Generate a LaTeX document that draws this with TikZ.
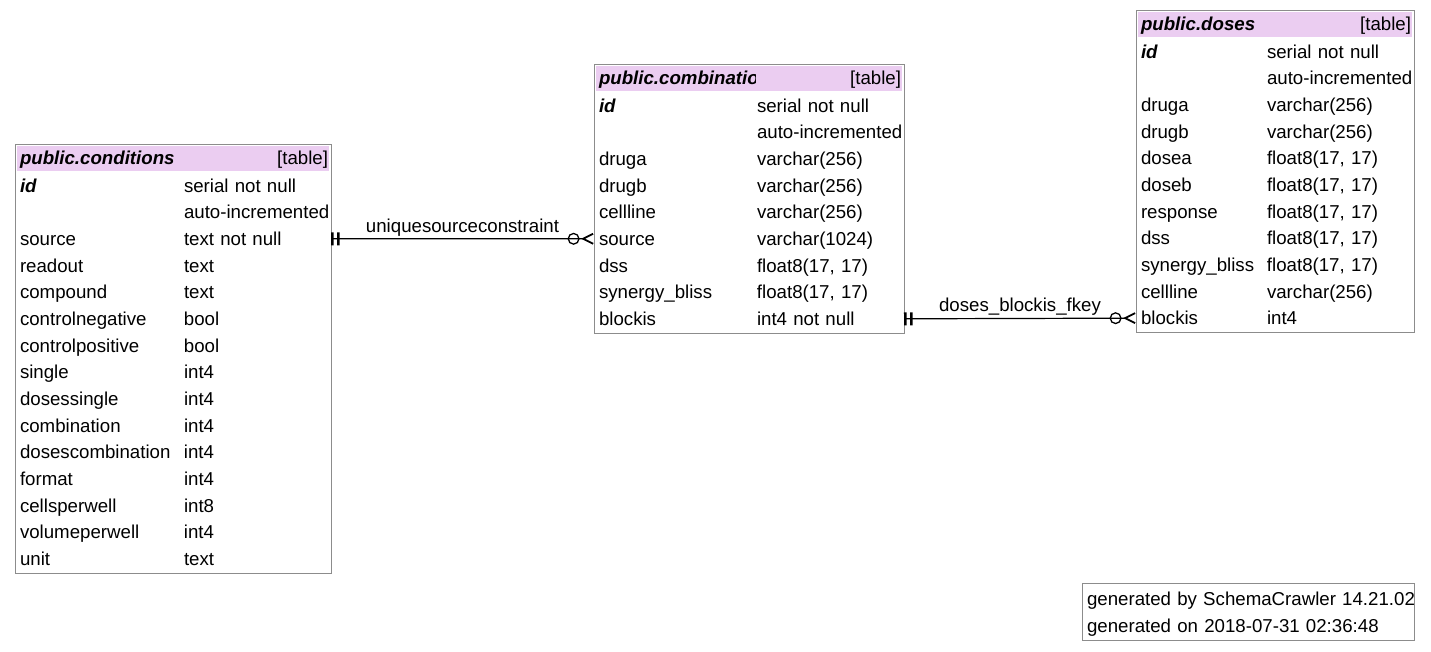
\documentclass[tikz,border=0pt]{standalone}
\usepackage{fontspec}
\setmainfont{Liberation Sans}
\usetikzlibrary{arrows.meta,positioning,fit}
\definecolor{hdr}{HTML}{EBCDF1}
\definecolor{frame}{HTML}{8C8C8C}
\newlength\colw
\newcommand\fld[2]{\mbox{\makebox[\colw][l]{#1}#2}}
\newcommand\bi[1]{\textbf{\textit{#1}}}
\tikzset{onlyone/.tip={Bar[width=13pt,line width'=2.6pt,sep=3.5pt]Bar[width=13pt,line width'=2.6pt]},
         zeromany/.tip={Circle[open,length=12pt,width=12pt,line width'=1.3pt,sep=1.5pt]Straight Barb[reversed,length=10pt,width=10pt,line width'=1.8pt]}}

\begin{document}
\begin{tikzpicture}[x=1pt,y=-1pt,node distance=0pt,
                    font=\fontsize{18.67pt}{22pt}\selectfont,
  row/.style={inner xsep=5pt,inner ysep=0pt,outer sep=0pt,minimum height=26.67pt,
              text height=15.5pt,text depth=2pt,align=left},
  crow/.style={row,text width=306pt,execute at begin node={\setlength\colw{164pt}}},
  brow/.style={row,text width=300pt,execute at begin node={\setlength\colw{158pt}}},
  drow/.style={row,text width=268pt,execute at begin node={\setlength\colw{126pt}}},
  head/.style={fill=hdr,inner sep=0pt,outer sep=0pt,minimum height=25pt},
  htxt/.style={inner sep=0pt,outer sep=0pt,text height=15pt,text depth=2.5pt},
  tbl/.style={draw=frame,line width=1pt,inner xsep=0pt,inner ysep=1.5pt},
  fk/.style={onlyone-zeromany,line width=1.2pt},
  lbl/.style={above,inner sep=2pt,text depth=4pt}]
  \useasboundingbox (0,0) rectangle (1431,651);

  % public.conditions
  \node[head,minimum width=312pt] (ch) at (173,158.6) {};
  \node[htxt,anchor=west] (chn) at ([xshift=3pt]ch.west) {\bi{public.conditions}};
  \node[htxt,anchor=east] (cht) at ([xshift=-1pt]ch.east) {[table]};
  \node[crow,below=1pt of ch] (c1)  {\fld{\bi{id}}{serial not null}};
  \node[crow,below=of c1]     (c2)  {\fld{}{auto-incremented}};
  \node[crow,below=of c2]     (c3)  {\fld{source}{text not null}};
  \node[crow,below=of c3]     (c4)  {\fld{readout}{text}};
  \node[crow,below=of c4]     (c5)  {\fld{compound}{text}};
  \node[crow,below=of c5]     (c6)  {\fld{controlnegative}{bool}};
  \node[crow,below=of c6]     (c7)  {\fld{controlpositive}{bool}};
  \node[crow,below=of c7]     (c8)  {\fld{single}{int4}};
  \node[crow,below=of c8]     (c9)  {\fld{dosessingle}{int4}};
  \node[crow,below=of c9]     (c10) {\fld{combination}{int4}};
  \node[crow,below=of c10]    (c11) {\fld{dosescombination}{int4}};
  \node[crow,below=of c11]    (c12) {\fld{format}{int4}};
  \node[crow,below=of c12]    (c13) {\fld{cellsperwell}{int8}};
  \node[crow,below=of c13]    (c14) {\fld{volumeperwell}{int4}};
  \node[crow,below=of c14]    (c15) {\fld{unit}{text}};
  \node[tbl,fit=(ch)(c1)(c15)] (ctab) {};

  % public.combinations
  \node[head,minimum width=306pt] (bh) at (749,78.6) {};
  \begin{scope}
    \clip (bh.north west) rectangle ([xshift=159pt]bh.south west);
    \node[htxt,anchor=west] (bhn) at ([xshift=3pt]bh.west) {\bi{public.combinations}};
  \end{scope}
  \node[htxt,anchor=east] (bht) at ([xshift=-1pt]bh.east) {[table]};
  \node[brow,below=1pt of bh] (b1) {\fld{\bi{id}}{serial not null}};
  \node[brow,below=of b1]     (b2) {\fld{}{auto-incremented}};
  \node[brow,below=of b2]     (b3) {\fld{druga}{varchar(256)}};
  \node[brow,below=of b3]     (b4) {\fld{drugb}{varchar(256)}};
  \node[brow,below=of b4]     (b5) {\fld{cellline}{varchar(256)}};
  \node[brow,below=of b5]     (b6) {\fld{source}{varchar(1024)}};
  \node[brow,below=of b6]     (b7) {\fld{dss}{float8(17, 17)}};
  \node[brow,below=of b7]     (b8) {\fld{synergy\_bliss}{float8(17, 17)}};
  \node[brow,below=of b8]     (b9) {\fld{blockis}{int4 not null}};
  \node[tbl,fit=(bh)(b1)(b9)] (btab) {};

  % public.doses
  \node[head,minimum width=274pt] (dh) at (1275,24.6) {};
  \node[htxt,anchor=west] (dhn) at ([xshift=3pt]dh.west) {\bi{public.doses}};
  \node[htxt,anchor=east] (dht) at ([xshift=-1pt]dh.east) {[table]};
  \node[drow,below=1pt of dh] (d1)  {\fld{\bi{id}}{serial not null}};
  \node[drow,below=of d1]     (d2)  {\fld{}{auto-incremented}};
  \node[drow,below=of d2]     (d3)  {\fld{druga}{varchar(256)}};
  \node[drow,below=of d3]     (d4)  {\fld{drugb}{varchar(256)}};
  \node[drow,below=of d4]     (d5)  {\fld{dosea}{float8(17, 17)}};
  \node[drow,below=of d5]     (d6)  {\fld{doseb}{float8(17, 17)}};
  \node[drow,below=of d6]     (d7)  {\fld{response}{float8(17, 17)}};
  \node[drow,below=of d7]     (d8)  {\fld{dss}{float8(17, 17)}};
  \node[drow,below=of d8]     (d9)  {\fld{synergy\_bliss}{float8(17, 17)}};
  \node[drow,below=of d9]     (d10) {\fld{cellline}{varchar(256)}};
  \node[drow,below=of d10]    (d11) {\fld{blockis}{int4}};
  \node[tbl,fit=(dh)(d1)(d11)] (dtab) {};

  % foreign keys
  \draw[fk] (c3.east) -- node[lbl] (k1) {uniquesourceconstraint} (b6.west);
  \draw[fk] (b9.east) -- node[lbl] (k2) {doses\_blockis\_fkey} (d11.west);

  % footer
  \node[row,text width=322pt] (g1) at (1248,598.7) {\mbox{generated by SchemaCrawler 14.21.02}};
  \node[row,text width=322pt,below=of g1] (g2) {\mbox{generated on 2018-07-31 02:36:48}};
  \node[tbl,fit=(g1)(g2)] (gbox) {};
\end{tikzpicture}
\end{document}
